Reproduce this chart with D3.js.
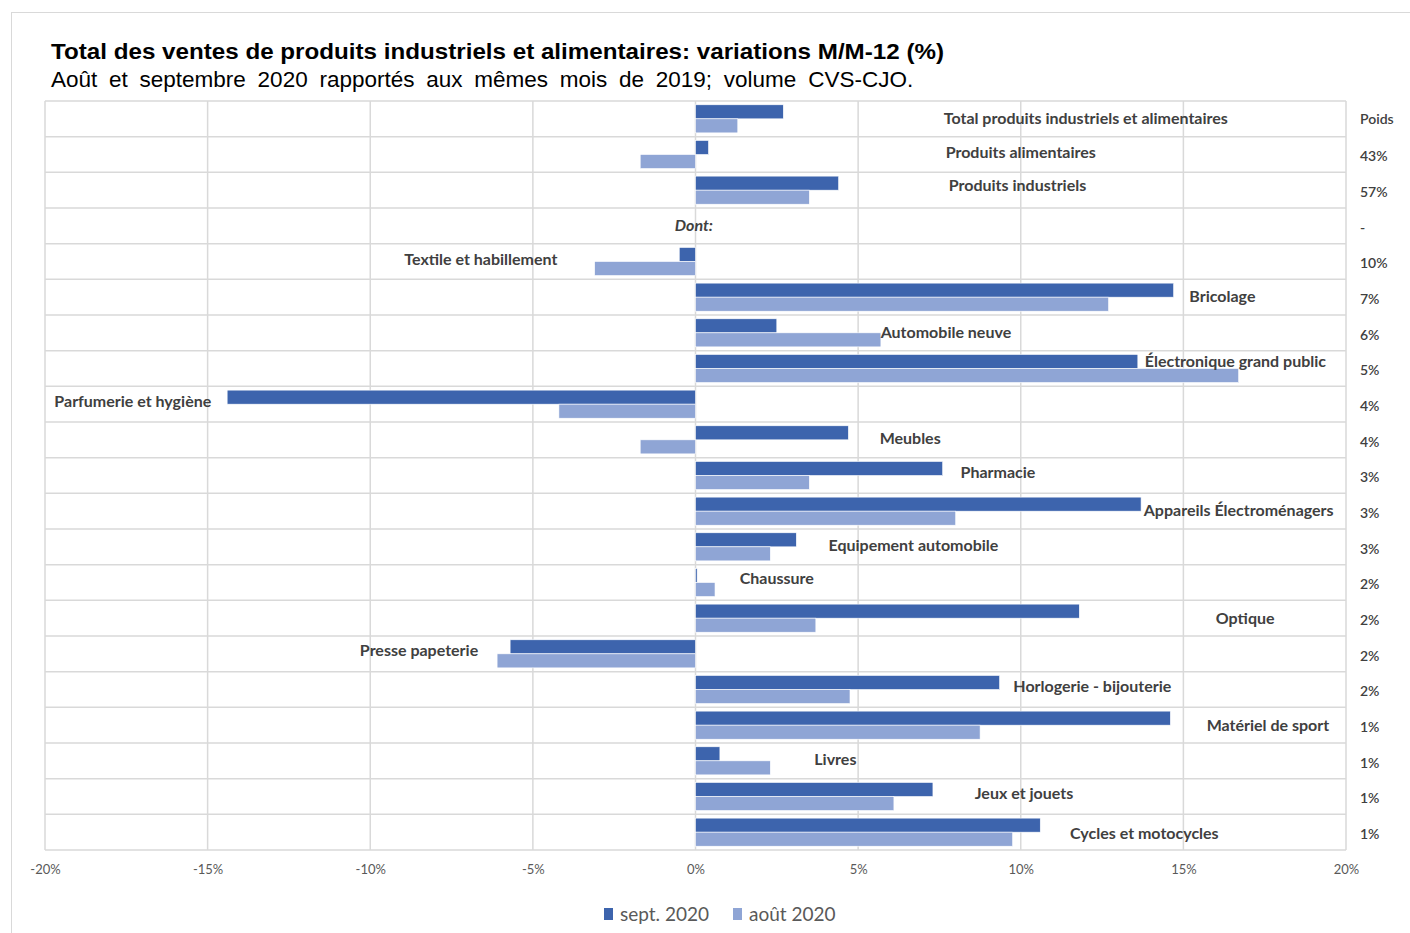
<!DOCTYPE html>
<html>
<head>
<meta charset="utf-8">
<script src="https://cdn.jsdelivr.net/npm/d3@7"></script>
<style>
body { margin: 0; background: #fff; }
</style>
</head>
<body>
<div id="chart"></div>
<script>
var categories = ["Total produits industriels et alimentaires", "Produits alimentaires", "Produits industriels", "Dont:",
    "Textile et habillement", "Bricolage", "Automobile neuve", "Électronique grand public", "Parfumerie et hygiène",
    "Meubles", "Pharmacie", "Appareils Électroménagers", "Equipement automobile", "Chaussure", "Optique",
    "Presse papeterie", "Horlogerie - bijouterie", "Matériel de sport", "Livres", "Jeux et jouets", "Cycles et motocycles"];
var sept2020 = [2.7, 0.4, 4.4, null, -0.5, 14.7, 2.5, 13.6, -14.4, 4.7, 7.6, 13.7, 3.1, 0.05, 11.8, -5.7, 9.35, 14.6, 0.75, 7.3, 10.6];
var aout2020 = [1.3, -1.7, 3.5, null, -3.1, 12.7, 5.7, 16.7, -4.2, -1.7, 3.5, 8.0, 2.3, 0.6, 3.7, -6.1, 4.75, 8.75, 2.3, 6.1, 9.75];
var poids = ["Poids", "43%", "57%", "-", "10%", "7%", "6%", "5%", "4%", "4%", "3%", "3%", "3%", "2%", "2%", "2%", "2%", "1%", "1%", "1%", "1%"];
var xTicks = [-20, -15, -10, -5, 0, 5, 10, 15, 20];
var seriesNames = ["sept. 2020", "août 2020"];

// where excel put each data label (x in % units, y as fraction of the row)
var labelX = [12.0, 10.0, 9.9, -0.05, -6.6, 16.2, 7.7, 16.6, -17.3, 6.6, 9.3, 16.7, 6.7, 2.5, 16.9, -8.5, 12.2, 17.6, 4.3, 10.1, 13.8];
var labelY = [0.5, 0.45, 0.37, 0.5, 0.44, 0.48, 0.48, 0.31, 0.42, 0.45, 0.42, 0.48, 0.45, 0.39, 0.5, 0.39, 0.42, 0.5, 0.47, 0.42, 0.53];

var colors = ["#3d64ad", "#8fa5d5"];
var margin = {top: 101, left: 45, right: 64, bottom: 83};
var W = 1410, H = 933;
var plotW = W - margin.left - margin.right;
var plotH = H - margin.top - margin.bottom;

var svg = d3.select("#chart").append("svg")
    .attr("width", W)
    .attr("height", H);

svg.append("rect")
    .attr("x", 11.5).attr("y", 12.5)
    .attr("width", W).attr("height", H)
    .attr("fill", "none").attr("stroke", "#d9d9d9");

svg.append("text")
    .attr("x", 51).attr("y", 59)
    .attr("font-family", "Liberation Sans, Arial, sans-serif")
    .attr("font-weight", "bold")
    .attr("font-size", 22.5)
    .attr("textLength", 893)
    .attr("lengthAdjust", "spacingAndGlyphs")
    .attr("fill", "#000")
    .text("Total des ventes de produits industriels et alimentaires: variations M/M-12 (%)");

svg.append("text")
    .attr("x", 51).attr("y", 87)
    .attr("font-family", "Liberation Sans, Arial, sans-serif")
    .attr("font-size", 22.5)
    .attr("word-spacing", 5.5)
    .attr("fill", "#000")
    .text("Août et septembre 2020 rapportés aux mêmes mois de 2019; volume CVS-CJO.");

var g = svg.append("g").attr("transform", `translate(${margin.left},${margin.top})`);

var x = d3.scaleLinear().domain([-20, 20]).range([0, plotW]);
var y = d3.scaleBand().domain(d3.range(categories.length)).range([0, plotH]).padding(0);
var ySub = d3.scaleBand().domain([0, 1]).range([0, y.bandwidth()]).paddingInner(0).paddingOuter(0.27);

// grid
g.append("g").selectAll("line").data(xTicks).enter().append("line")
    .attr("x1", d => x(d)).attr("x2", d => x(d))
    .attr("y1", 0).attr("y2", plotH)
    .attr("stroke", "#d9d9d9").attr("stroke-width", 1.5);
g.append("g").selectAll("line").data(d3.range(categories.length + 1)).enter().append("line")
    .attr("x1", 0).attr("x2", plotW)
    .attr("y1", d => d * y.step()).attr("y2", d => d * y.step())
    .attr("stroke", "#d9d9d9").attr("stroke-width", 1.5);

var series = [sept2020, aout2020];
series.forEach(function(vals, s) {
    g.append("g").selectAll("rect")
        .data(vals.map((v, i) => ({v: v, i: i})).filter(d => d.v !== null))
        .enter().append("rect")
        .attr("x", d => x(Math.min(0, d.v)))
        .attr("width", d => Math.max(1, Math.abs(x(d.v) - x(0))))
        .attr("y", d => y(d.i) + ySub(s))
        .attr("height", ySub.bandwidth())
        .attr("fill", colors[s])
        .attr("stroke", "#fff").attr("stroke-width", 0.6);
});

// data labels
g.append("g").selectAll("text").data(categories).enter().append("text")
    .attr("x", (d, i) => x(labelX[i]))
    .attr("y", (d, i) => y(i) + labelY[i] * y.bandwidth())
    .attr("dy", "0.35em")
    .attr("text-anchor", "middle")
    .attr("font-family", "Lato, sans-serif")
    .attr("font-weight", "bold")
    .attr("font-style", (d, i) => i === 3 ? "italic" : "normal")
    .attr("font-size", 16)
    .attr("fill", "#404040")
    .text(d => d);

// poids column
g.append("g").selectAll("text").data(poids).enter().append("text")
    .attr("x", plotW + 14)
    .attr("y", (d, i) => y(i) + y.bandwidth() / 2 + (i === 0 ? 0 : 2))
    .attr("dy", "0.35em")
    .attr("font-family", "Lato, sans-serif")
    .attr("font-weight", 600)
    .attr("font-size", 14)
    .attr("fill", "#404040")
    .text(d => d);

// x axis
var xAxis = g.append("g")
    .attr("transform", `translate(0,${plotH})`)
    .call(d3.axisBottom(x).tickValues(xTicks).tickFormat(d => d + "%").tickSize(0).tickPadding(15));
xAxis.select(".domain").remove();
xAxis.selectAll("text")
    .attr("font-family", "Lato, sans-serif")
    .attr("font-size", 13)
    .attr("fill", "#595959");

// legend
var legend = svg.append("g").attr("transform", "translate(604,914)");
var legX = [0, 129];
seriesNames.forEach(function(name, i) {
    legend.append("rect")
        .attr("x", legX[i]).attr("y", -6)
        .attr("width", 9).attr("height", 12)
        .attr("fill", colors[i]);
    legend.append("text")
        .attr("x", legX[i] + 16).attr("y", 0)
        .attr("dy", "0.35em")
        .attr("font-family", "Lato, sans-serif")
        .attr("font-size", 19)
        .attr("fill", "#595959")
        .text(name);
});
</script>
</body>
</html>
